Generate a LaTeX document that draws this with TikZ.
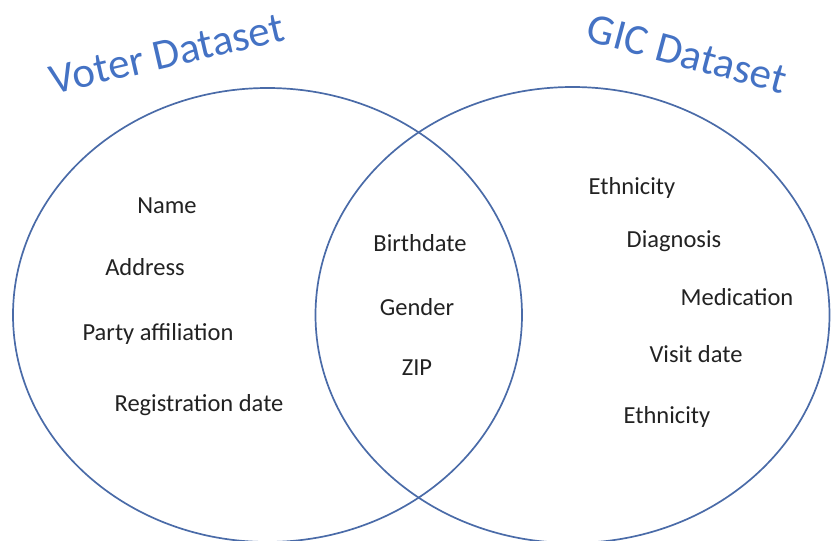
\documentclass[tikz,border=0pt]{standalone}
\usepackage{fontspec}
\setmainfont{Carlito}
\definecolor{ringblue}{HTML}{4A6BA8}
\definecolor{titleblue}{HTML}{4472C4}
\definecolor{txt}{HTML}{222222}
\begin{document}
\begin{tikzpicture}[x=1pt,y=-1pt,
  ring/.style={draw=ringblue,line width=1.7pt},
  item/.style={text=txt,font=\fontsize{24.5}{28}\selectfont,inner sep=0pt},
  title/.style={text=titleblue,font=\fontsize{43}{48}\selectfont,inner sep=0pt}]
\useasboundingbox (0,0) rectangle (831,541);
\draw[ring] (267.5,315) ellipse [x radius=254.5pt, y radius=227pt];
\draw[ring] (572.5,315) ellipse [x radius=257pt, y radius=228pt];
\node[title,rotate=13] (voter) at (167,54) {Voter Dataset};
\node[title,rotate=-15] (gic) at (687,54) {GIC Dataset};
\node[item] (name) at (167,206) {Name};
\node[item] (addr) at (145,267) {Address};
\node[item] (party) at (158,334) {Party affiliation};
\node[item] (reg) at (199,405) {Registration date};
\node[item] (birth) at (420,243) {Birthdate};
\node[item] (gender) at (417,307) {Gender};
\node[item] (zip) at (417,368) {ZIP};
\node[item] (eth1) at (632,188) {Ethnicity};
\node[item] (diag) at (674,241) {Diagnosis};
\node[item] (med) at (737,297) {Medication};
\node[item] (visit) at (696,354) {Visit date};
\node[item] (eth2) at (667,417) {Ethnicity};
\end{tikzpicture}
\end{document}
